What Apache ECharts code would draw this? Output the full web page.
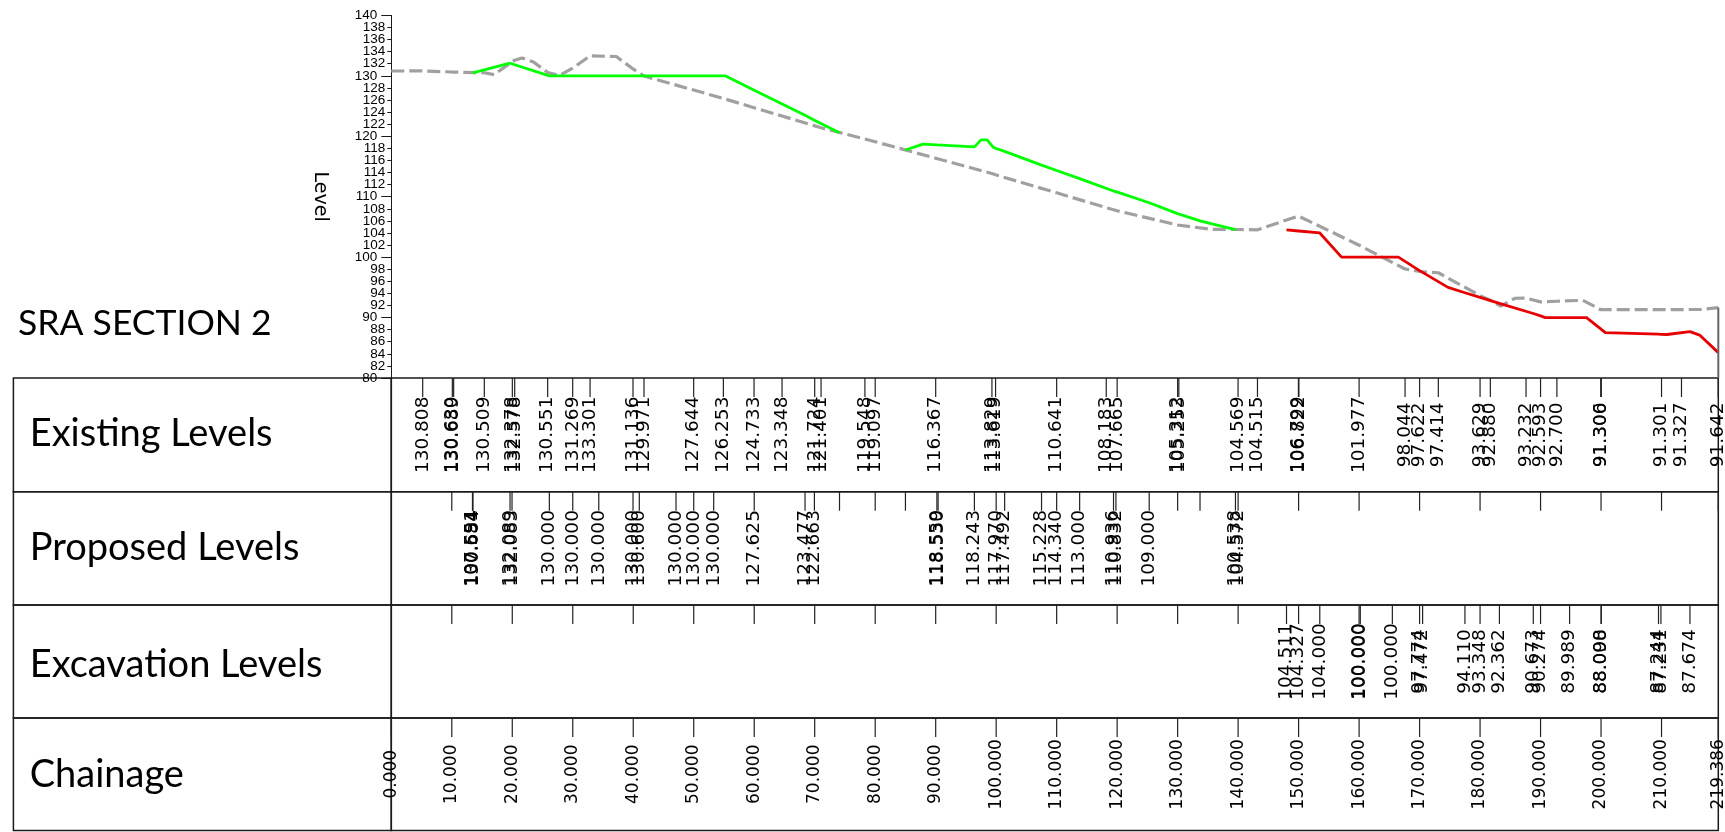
<!DOCTYPE html>
<html>
<head>
<meta charset="utf-8">
<title>SRA SECTION 2</title>
<script src="https://cdn.jsdelivr.net/npm/echarts@6/dist/echarts.min.js"></script>
<style>
  html, body { margin: 0; padding: 0; background: #fff; }
  #chart { width: 1725px; height: 832px; }
</style>
</head>
<body>
<div id="chart"></div>
<script>
// ground line, pairs of chainage and level
const existingLine = [[0, 130.8], [5.19, 130.808], [10.09, 130.63], [10.31, 130.689], [15.38, 130.509], [17, 130.2], [20.01, 132.378], [20.4, 132.578], [21.6, 132.95], [23.5, 132.3], [25.85, 130.551], [27.8, 130.05], [29.99, 131.269], [32.86, 133.301], [37.2, 133.2], [39.96, 131.136], [41.78, 129.971], [49.99, 127.644], [54.9, 126.253], [59.97, 124.733], [64.6, 123.348], [70, 121.724], [71.05, 121.401], [78.3, 119.548], [80, 119.097], [90, 116.367], [99.3, 113.829], [99.9, 113.619], [110, 110.641], [118.2, 108.183], [120, 107.665], [130, 105.312], [130.2, 105.253], [135.5, 104.6], [139.99, 104.569], [143.2, 104.515], [149.97, 106.799], [150.05, 106.822], [160, 101.977], [167.6, 98.044], [170, 97.622], [173.1, 97.414], [180, 93.629], [181.7, 92.88], [183.4, 91.9], [185.8, 93.2], [187.6, 93.232], [190, 92.593], [192.7, 92.7], [197, 92.85], [199.95, 91.3], [200.05, 91.306], [210, 91.301], [213.3, 91.327], [216.5, 91.35], [219.386, 91.642]];

// green and red lines
const proposedLineA = [[13.45, 130.5], [19.63, 132.089], [19.96, 132.083], [26.13, 130], [30, 130], [34.3, 130], [39.96, 130], [41, 130], [47.07, 130], [50, 130], [53.3, 130], [55.2, 130], [60, 127.625], [68.4, 123.477], [69.95, 122.663], [74.1, 120.6]];
const proposedLineB = [[85, 117.73], [87.9, 118.7], [90.2, 118.559], [90.4, 118.53], [96.4, 118.243], [97.5, 119.4], [98.5, 119.4], [99.5, 118.2], [100, 117.97], [101.4, 117.492], [107.5, 115.228], [110, 114.34], [113.8, 113], [119.4, 110.936], [119.8, 110.832], [125.3, 109], [130, 107.2], [133.7, 106], [139.56, 104.538]];
const excavationLine = [[148, 104.511], [150, 104.327], [153.5, 104], [157.1, 100], [160, 100], [160.2, 100], [165.5, 100], [166.5, 100], [170, 97.774], [170.5, 97.472], [174.7, 95], [177.5, 94.11], [180, 93.348], [183.2, 92.362], [188.8, 90.673], [190, 90.274], [190.8, 90], [194.8, 89.989], [197.6, 90], [200, 88.098], [200.7, 87.5], [209.5, 87.244], [209.9, 87.231], [210.9, 87.2], [214.7, 87.674], [216.3, 87.1], [219.386, 84.2]];

// table rows
const existingChainage = [5.19, 10.09, 10.31, 15.38, 20.01, 20.4, 25.85, 29.99, 32.86, 39.96, 41.78, 49.99, 54.9, 59.97, 64.6, 70, 71.05, 78.3, 80, 90, 99.3, 99.9, 110, 118.2, 120, 130, 130.2, 139.99, 143.2, 149.97, 150.05, 160, 167.6, 170, 173.1, 180, 181.7, 187.6, 190, 192.7, 199.95, 200.05, 210, 213.3, 219.386];
const existingLabels = ['130.808', '130.630', '130.689', '130.509', '132.378', '132.578', '130.551', '131.269', '133.301', '131.136', '129.971', '127.644', '126.253', '124.733', '123.348', '121.724', '121.401', '119.548', '119.097', '116.367', '113.829', '113.619', '110.641', '108.183', '107.665', '105.312', '105.253', '104.569', '104.515', '106.799', '106.822', '101.977', '98.044', '97.622', '97.414', '93.629', '92.880', '93.232', '92.593', '92.700', '91.300', '91.306', '91.301', '91.327', '91.642'];

const proposedChainage = [13.42, 13.45, 13.48, 19.63, 19.96, 26.13, 30, 34.3, 39.96, 41, 47.07, 50, 53.3, 60, 68.4, 69.95, 90.2, 90.4, 96.4, 100, 101.4, 107.5, 110, 113.8, 119.4, 119.8, 125.3, 139.56, 140];
const proposedLabels = ['100.594', '107.551', '130.684', '132.089', '132.083', '130.000', '130.000', '130.000', '130.000', '130.600', '130.000', '130.000', '130.000', '127.625', '123.477', '122.663', '118.559', '118.530', '118.243', '117.970', '117.492', '115.228', '114.340', '113.000', '110.936', '110.832', '109.000', '100.538', '104.572'];
const proposedBareTicks = [10, 74.1, 80, 85, 130, 133.7, 150, 160, 170, 180, 190, 200, 210, 219.386];

const excavationChainage = [148, 150, 153.5, 160, 160.2, 165.5, 170, 170.5, 177.5, 180, 183.2, 188.8, 190, 194.8, 200, 200.05, 209.5, 209.9, 214.7];
const excavationLabels = ['104.511', '104.327', '104.000', '100.000', '100.000', '100.000', '97.774', '97.472', '94.110', '93.348', '92.362', '90.673', '90.274', '89.989', '88.000', '88.098', '87.244', '87.231', '87.674'];
const excavationBareTicks = [10, 20, 30, 40, 50, 60, 70, 80, 90, 100, 110, 120, 130, 140];

const chainageTicks = [0, 10, 20, 30, 40, 50, 60, 70, 80, 90, 100, 110, 120, 130, 140, 150, 160, 170, 180, 190, 200, 210, 219.386];
const chainageLabels = ['0.000', '10.000', '20.000', '30.000', '40.000', '50.000', '60.000', '70.000', '80.000', '90.000', '100.000', '110.000', '120.000', '130.000', '140.000', '150.000', '160.000', '170.000', '180.000', '190.000', '200.000', '210.000', '219.386'];

const rowNames = ['Existing Levels', 'Proposed Levels', 'Excavation Levels', 'Chainage'];

const PLOT_LEFT = 391.3;
const PLOT_WIDTH = 1327;
const CHAINAGE_MAX = 219.386;
const ROW_TOPS = [378, 491.7, 605, 718];
const ROW_HEIGHTS = [113.7, 113.3, 113, 112.5];
const TICK_LENGTH = 19;
const TICK_COLOR = '#222';
const LINE_COLOR = '#1a1a1a';

const chart = echarts.init(document.getElementById('chart'));

const grids = [{ left: PLOT_LEFT, top: 15.4, width: PLOT_WIDTH, height: 362.6, outerBoundsMode: 'none' }];
const xAxes = [{ type: 'value', gridIndex: 0, min: 0, max: CHAINAGE_MAX, show: false }];
const yAxes = [
  {
    type: 'value', gridIndex: 0, position: 'left', min: 80, max: 140, interval: 2,
    name: 'Level', nameLocation: 'middle', nameGap: 62, nameRotate: -90,
    nameTextStyle: { fontFamily: 'DejaVu Sans', fontSize: 19, color: '#000' },
    axisLine: { show: true, lineStyle: { color: LINE_COLOR, width: 1 } },
    axisTick: { show: true, length: 4, lineStyle: { color: LINE_COLOR } },
    axisLabel: {
      margin: 6, color: '#000', fontFamily: 'Liberation Sans', fontSize: 13.5,
      formatter: v => (v % 10 === 0 ? '' : String(v))
    },
    splitLine: { show: false }
  },
  {
    type: 'value', gridIndex: 0, position: 'left', min: 80, max: 140, interval: 10,
    axisLine: { show: false },
    axisTick: { show: true, length: 10, lineStyle: { color: LINE_COLOR } },
    axisLabel: { margin: 14, color: '#000', fontFamily: 'Liberation Sans', fontSize: 13.5 },
    splitLine: { show: false }
  }
];

// one grid per table row, sharing the chart's chainage scale, plus a cell for the row name
ROW_TOPS.forEach((top, i) => {
  grids.push({ left: PLOT_LEFT, top, width: PLOT_WIDTH, height: ROW_HEIGHTS[i], outerBoundsMode: 'none', show: true, borderColor: LINE_COLOR, borderWidth: 1.5, backgroundColor: 'transparent' });
  xAxes.push({ type: 'value', gridIndex: i + 1, min: 0, max: CHAINAGE_MAX, show: false });
  yAxes.push({ type: 'value', gridIndex: i + 1, min: 0, max: 1, show: false });
});
ROW_TOPS.forEach((top, i) => {
  grids.push({ left: 13.4, top, width: PLOT_LEFT - 13.4, height: ROW_HEIGHTS[i], outerBoundsMode: 'none', show: true, borderColor: LINE_COLOR, borderWidth: 1.5, backgroundColor: 'transparent' });
});

function tickSeries(rowIndex, chainage, labels, fontSize) {
  return {
    type: 'custom',
    xAxisIndex: rowIndex + 1,
    yAxisIndex: rowIndex + 2,
    clip: false,
    silent: true,
    data: chainage.map(c => [c, 0.5]),
    renderItem(params, api) {
      const c = api.value(0);
      const top = api.coord([c, 1]);
      const mid = api.coord([c, 0.5]);
      const children = [{
        type: 'line',
        shape: { x1: top[0], y1: top[1], x2: top[0], y2: top[1] + TICK_LENGTH },
        style: { stroke: TICK_COLOR, lineWidth: 1.2 }
      }];
      if (labels) {
        children.push({
          type: 'text',
          x: mid[0],
          y: mid[1],
          rotation: Math.PI / 2,
          style: {
            text: labels[params.dataIndex],
            align: 'center',
            verticalAlign: 'middle',
            fontFamily: 'DejaVu Sans',
            fontSize: fontSize,
            fill: '#000'
          }
        });
      }
      return { type: 'group', children };
    }
  };
}

function levelLine(data, color, dashed) {
  return {
    type: 'line',
    xAxisIndex: 0,
    yAxisIndex: 0,
    data,
    symbol: 'none',
    smooth: false,
    clip: false,
    silent: true,
    lineStyle: { color, width: dashed ? 3.2 : 2.8, type: dashed ? [13, 5] : 'solid' }
  };
}

const lastStation = existingLine[existingLine.length - 1];
const titleStyle = { fontFamily: 'Lato', fontWeight: 'normal', fontSize: 38, color: '#000' };

chart.setOption({
  animation: false,
  backgroundColor: '#fff',
  grid: grids,
  xAxis: xAxes,
  yAxis: yAxes,
  title: [{
    text: 'SRA SECTION 2', left: 18, top: 323.5, padding: 0, textVerticalAlign: 'middle',
    textStyle: Object.assign({}, titleStyle, { fontSize: 35.5 })
  }].concat(rowNames.map((name, i) => ({
    text: name, left: 29.7, top: [433.5, 547.5, 664.5, 774.5][i], padding: 0, textVerticalAlign: 'middle',
    textStyle: titleStyle
  }))),
  series: [
    levelLine(existingLine, '#a0a0a0', true),
    levelLine(proposedLineA, '#00ff00', false),
    levelLine(proposedLineB, '#00ff00', false),
    levelLine(excavationLine, '#e60000', false),
    // drop line at the end of the section
    {
      type: 'line', xAxisIndex: 0, yAxisIndex: 0, symbol: 'none', silent: true, clip: false,
      data: [[lastStation[0], 80], lastStation],
      lineStyle: { color: '#666', width: 2 }
    },
    tickSeries(0, existingChainage, existingLabels, 18.5),
    tickSeries(1, proposedChainage, proposedLabels, 18.5),
    tickSeries(1, proposedBareTicks, null, 18.5),
    tickSeries(2, excavationChainage, excavationLabels, 18.5),
    tickSeries(2, excavationBareTicks, null, 18.5),
    tickSeries(3, chainageTicks, chainageLabels, 17)
  ]
});
</script>
</body>
</html>
